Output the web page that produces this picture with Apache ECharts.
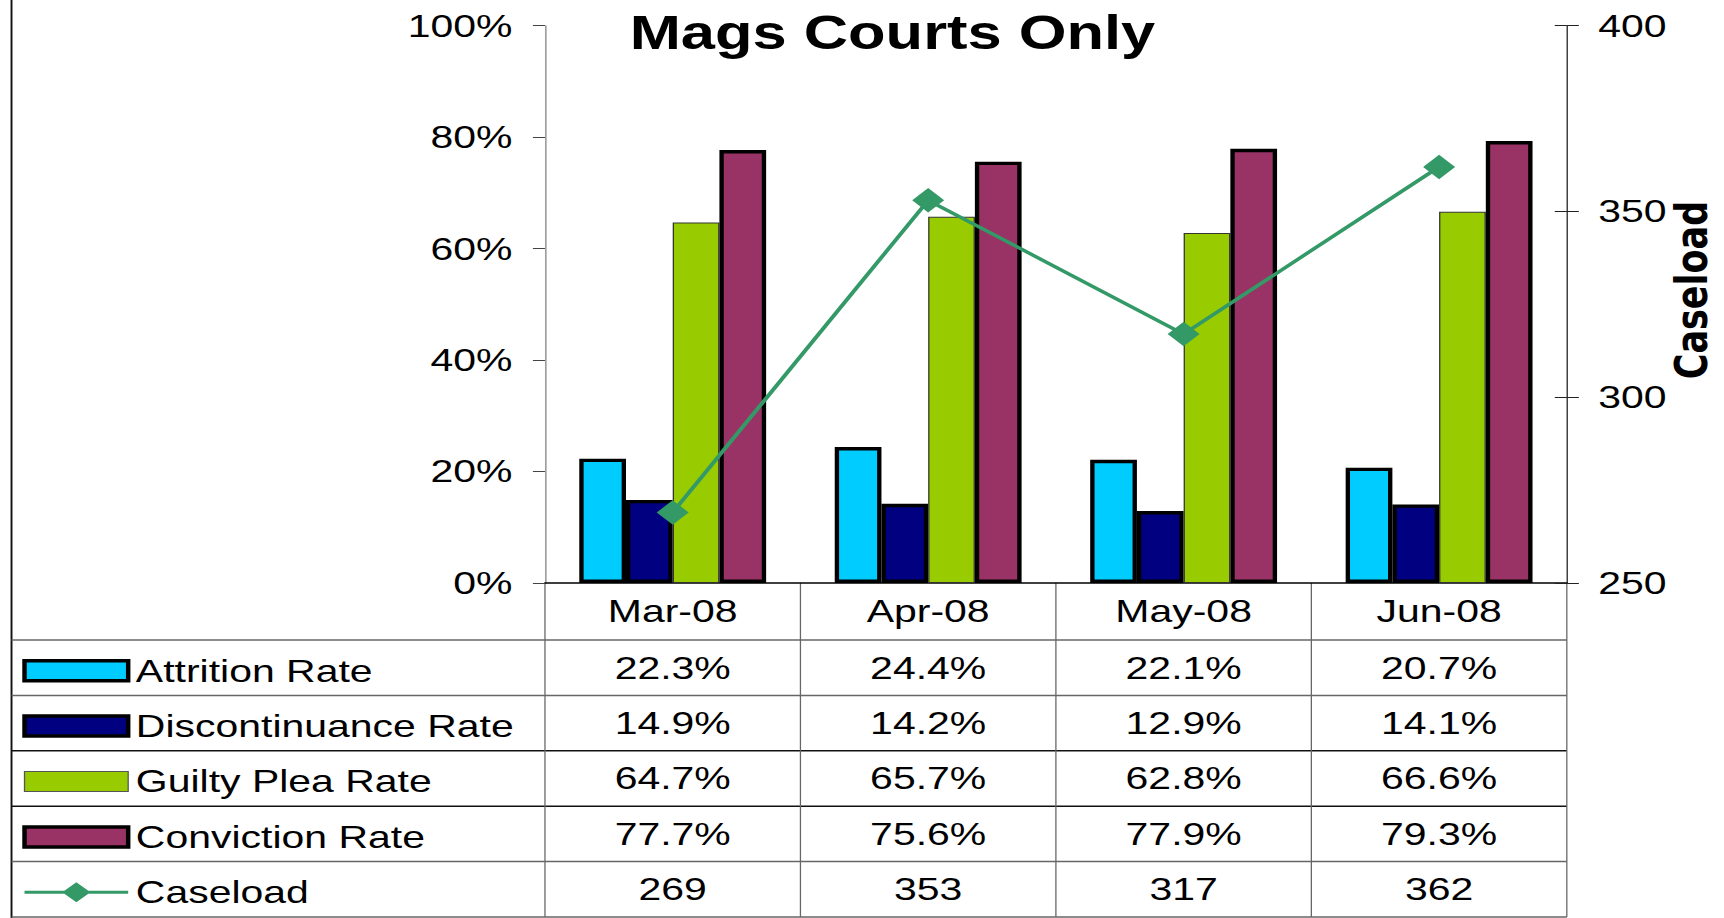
<!DOCTYPE html>
<html>
<head>
<meta charset="utf-8">
<title>Mags Courts Only</title>
<script src="https://cdn.jsdelivr.net/npm/echarts@6/dist/echarts.min.js"></script>
<style>
    html, body { margin: 0; padding: 0; background: #fff; overflow: hidden; }
    #wrap { width: 1724px; height: 918px; overflow: hidden; }
    /* the source picture is stretched sideways, so draw narrow and scale X */
    #chart { width: 1347px; height: 918px; transform: scaleX(1.27988); transform-origin: 0 0; }
</style>
</head>
<body>
<div id="wrap"><div id="chart"></div></div>
<script>
var months = ['Mar-08', 'Apr-08', 'May-08', 'Jun-08'];
var attritionRate = [22.3, 24.4, 22.1, 20.7];
var discontinuanceRate = [14.9, 14.2, 12.9, 14.1];
var guiltyPleaRate = [64.7, 65.7, 62.8, 66.6];
var convictionRate = [77.7, 75.6, 77.9, 79.3];
var caseload = [269, 353, 317, 362];

// axis ranges: [min, max, interval]
var rateTicks = [0, 100, 20];
var caseloadTicks = [250, 400, 50];

var FONT = 'Liberation Sans';

function barSeries(name, data, color, border, borderW) {
    return {
        name: name,
        type: 'bar',
        data: data,
        barWidth: 36.5,
        barGap: '0%',
        itemStyle: {
            color: color,
            borderColor: border,
            borderWidth: borderW
        }
    };
}

function rateText(v) { return v.toFixed(1) + '%'; }
function plainText(v) { return String(v); }

function chartRender() {
    var myChart = echarts.init(document.getElementById('chart'), null, { renderer: 'svg' });

    var option = {
        animation: false,
        title: {
            text: 'Mags Courts Only',
            left: 492,
            top: 8,
            padding: 0,
            textStyle: {
                fontFamily: FONT,
                fontWeight: 'bold',
                fontSize: 48,
                color: '#000'
            }
        },
        grid: {
            left: 425.8,
            right: 122.8,
            top: 25.7,
            bottom: 335,
            containLabel: false,
            outerBoundsMode: 'none'
        },
        xAxis: {
            type: 'category',
            data: months,
            axisTick: { show: false },
            axisLine: { lineStyle: { color: '#000', width: 1.5 } },
            axisLabel: {
                margin: 28.5,
                verticalAlign: 'middle',
                fontFamily: FONT,
                fontSize: 32,
                color: '#000'
            }
        },
        yAxis: [{
            type: 'value',
            min: rateTicks[0],
            max: rateTicks[1],
            interval: rateTicks[2],
            position: 'left',
            splitLine: { show: false },
            axisLine: { show: true, lineStyle: { color: '#808080' } },
            axisTick: { show: true, length: 9.4, lineStyle: { color: '#444' } },
            axisLabel: {
                margin: 25.4,
                formatter: '{value}%',
                fontFamily: FONT,
                fontSize: 32,
                color: '#000'
            }
        }, {
            type: 'value',
            name: 'Caseload',
            nameLocation: 'middle',
            nameRotate: 90,
            nameGap: 80,
            nameMoveOverlap: false,
            nameTextStyle: {
                fontFamily: 'DejaVu Sans',
                fontWeight: 'bold',
                fontSize: 35,
                color: '#000',
                padding: [0, 0, 0, 28.7]
            },
            min: caseloadTicks[0],
            max: caseloadTicks[1],
            interval: caseloadTicks[2],
            position: 'right',
            splitLine: { show: false },
            axisLine: { show: true, lineStyle: { color: '#222' } },
            axisTick: { show: true, length: 9.4, lineStyle: { color: '#222' } },
            axisLabel: {
                margin: 24.5,
                fontFamily: FONT,
                fontSize: 32,
                color: '#000'
            }
        }, {
            // inner half of the cross ticks on the right axis
            type: 'value',
            min: caseloadTicks[0],
            max: caseloadTicks[1],
            interval: caseloadTicks[2],
            position: 'right',
            splitLine: { show: false },
            axisLine: { show: false },
            axisTick: { show: true, inside: true, length: 9.4, lineStyle: { color: '#222' } },
            axisLabel: { show: false }
        }],
        series: [
            barSeries('Attrition Rate', attritionRate, '#00CCFF', '#000', 3.4),
            barSeries('Discontinuance Rate', discontinuanceRate, '#000080', '#000', 3.4),
            barSeries('Guilty Plea Rate', guiltyPleaRate, '#99CC00', '#333', 1),
            barSeries('Conviction Rate', convictionRate, '#993366', '#000', 3.4),
            {
                name: 'Caseload',
                type: 'line',
                yAxisIndex: 1,
                data: caseload,
                symbol: 'diamond',
                symbolSize: [25, 24.5],
                lineStyle: { color: '#339966', width: 3.3 },
                itemStyle: { color: '#339966', borderWidth: 0 },
                z: 5
            }
        ]
    };
    myChart.setOption(option);

    // data table under the plot, laid out from the x axis bands
    var xa = myChart.convertToPixel({ xAxisIndex: 0 }, months[0]);
    var xb = myChart.convertToPixel({ xAxisIndex: 0 }, months[1]);
    var band = xb - xa;
    var colLeft = xa - band / 2;
    var tableLeft = 9;
    var tableRight = colLeft + band * months.length;
    var headTop = myChart.convertToPixel({ yAxisIndex: 0 }, rateTicks[0]);
    var headH = 57;
    var rowH = 55.4;
    var bottom = headTop + headH + rowH * 5;

    var rows = [
        { data: attritionRate, fmt: rateText },
        { data: discontinuanceRate, fmt: rateText },
        { data: guiltyPleaRate, fmt: rateText },
        { data: convictionRate, fmt: rateText },
        { data: caseload, fmt: plainText }
    ];
    var hColors = ['#666', '#666', '#111', '#111', '#666', '#666'];

    var els = [];
    // left frame line, full height
    els.push({
        type: 'line', silent: true,
        shape: { x1: tableLeft, y1: 0, x2: tableLeft, y2: 918 },
        style: { stroke: '#111', lineWidth: 1.5 }
    });
    for (var i = 0; i <= rows.length; i++) {
        var y = headTop + headH + rowH * i;
        els.push({
            type: 'line', silent: true,
            shape: { x1: tableLeft, y1: y, x2: tableRight, y2: y },
            style: { stroke: hColors[i], lineWidth: 1.5 }
        });
    }
    for (var k = 0; k <= months.length; k++) {
        var x = colLeft + band * k;
        els.push({
            type: 'line', silent: true,
            shape: { x1: x, y1: headTop, x2: x, y2: bottom },
            style: { stroke: '#666', lineWidth: 1 }
        });
    }
    for (var r = 0; r < rows.length; r++) {
        for (var c = 0; c < months.length; c++) {
            els.push({
                type: 'text', silent: true,
                x: xa + band * c,
                y: headTop + headH + rowH * r + rowH / 2,
                style: {
                    text: rows[r].fmt(rows[r].data[c]),
                    fontFamily: FONT,
                    fontSize: 32,
                    fill: '#000',
                    align: 'center',
                    verticalAlign: 'middle'
                }
            });
        }
    }

    var lineIcon = 'path://M0,8.5L31.15,8.5L40.5,0L49.85,8.5L81,8.5L81,11.5L49.85,11.5L40.5,20L31.15,11.5L0,11.5Z';

    myChart.setOption({
        graphic: els,
        legend: {
            orient: 'vertical',
            left: 17.4,
            top: headTop + headH + rowH / 2 - 16 + 3,
            padding: 0,
            itemWidth: 81,
            itemHeight: 20,
            itemGap: rowH - 32,
            selectedMode: false,
            textStyle: {
                fontFamily: FONT,
                fontSize: 32,
                lineHeight: 32,
                color: '#000',
                padding: [0, 0, 0, 1]
            },
            data: [
                { name: 'Attrition Rate', icon: 'rect', itemStyle: { color: '#00CCFF', borderColor: '#000', borderWidth: 3.5 } },
                { name: 'Discontinuance Rate', icon: 'rect', itemStyle: { color: '#000080', borderColor: '#000', borderWidth: 3.5 } },
                { name: 'Guilty Plea Rate', icon: 'rect', itemStyle: { color: '#99CC00', borderColor: '#555', borderWidth: 1 } },
                { name: 'Conviction Rate', icon: 'rect', itemStyle: { color: '#993366', borderColor: '#000', borderWidth: 3.5 } },
                { name: 'Caseload', icon: lineIcon, itemStyle: { color: '#339966', borderWidth: 0 } }
            ]
        }
    });
}

chartRender();
</script>
</body>
</html>
